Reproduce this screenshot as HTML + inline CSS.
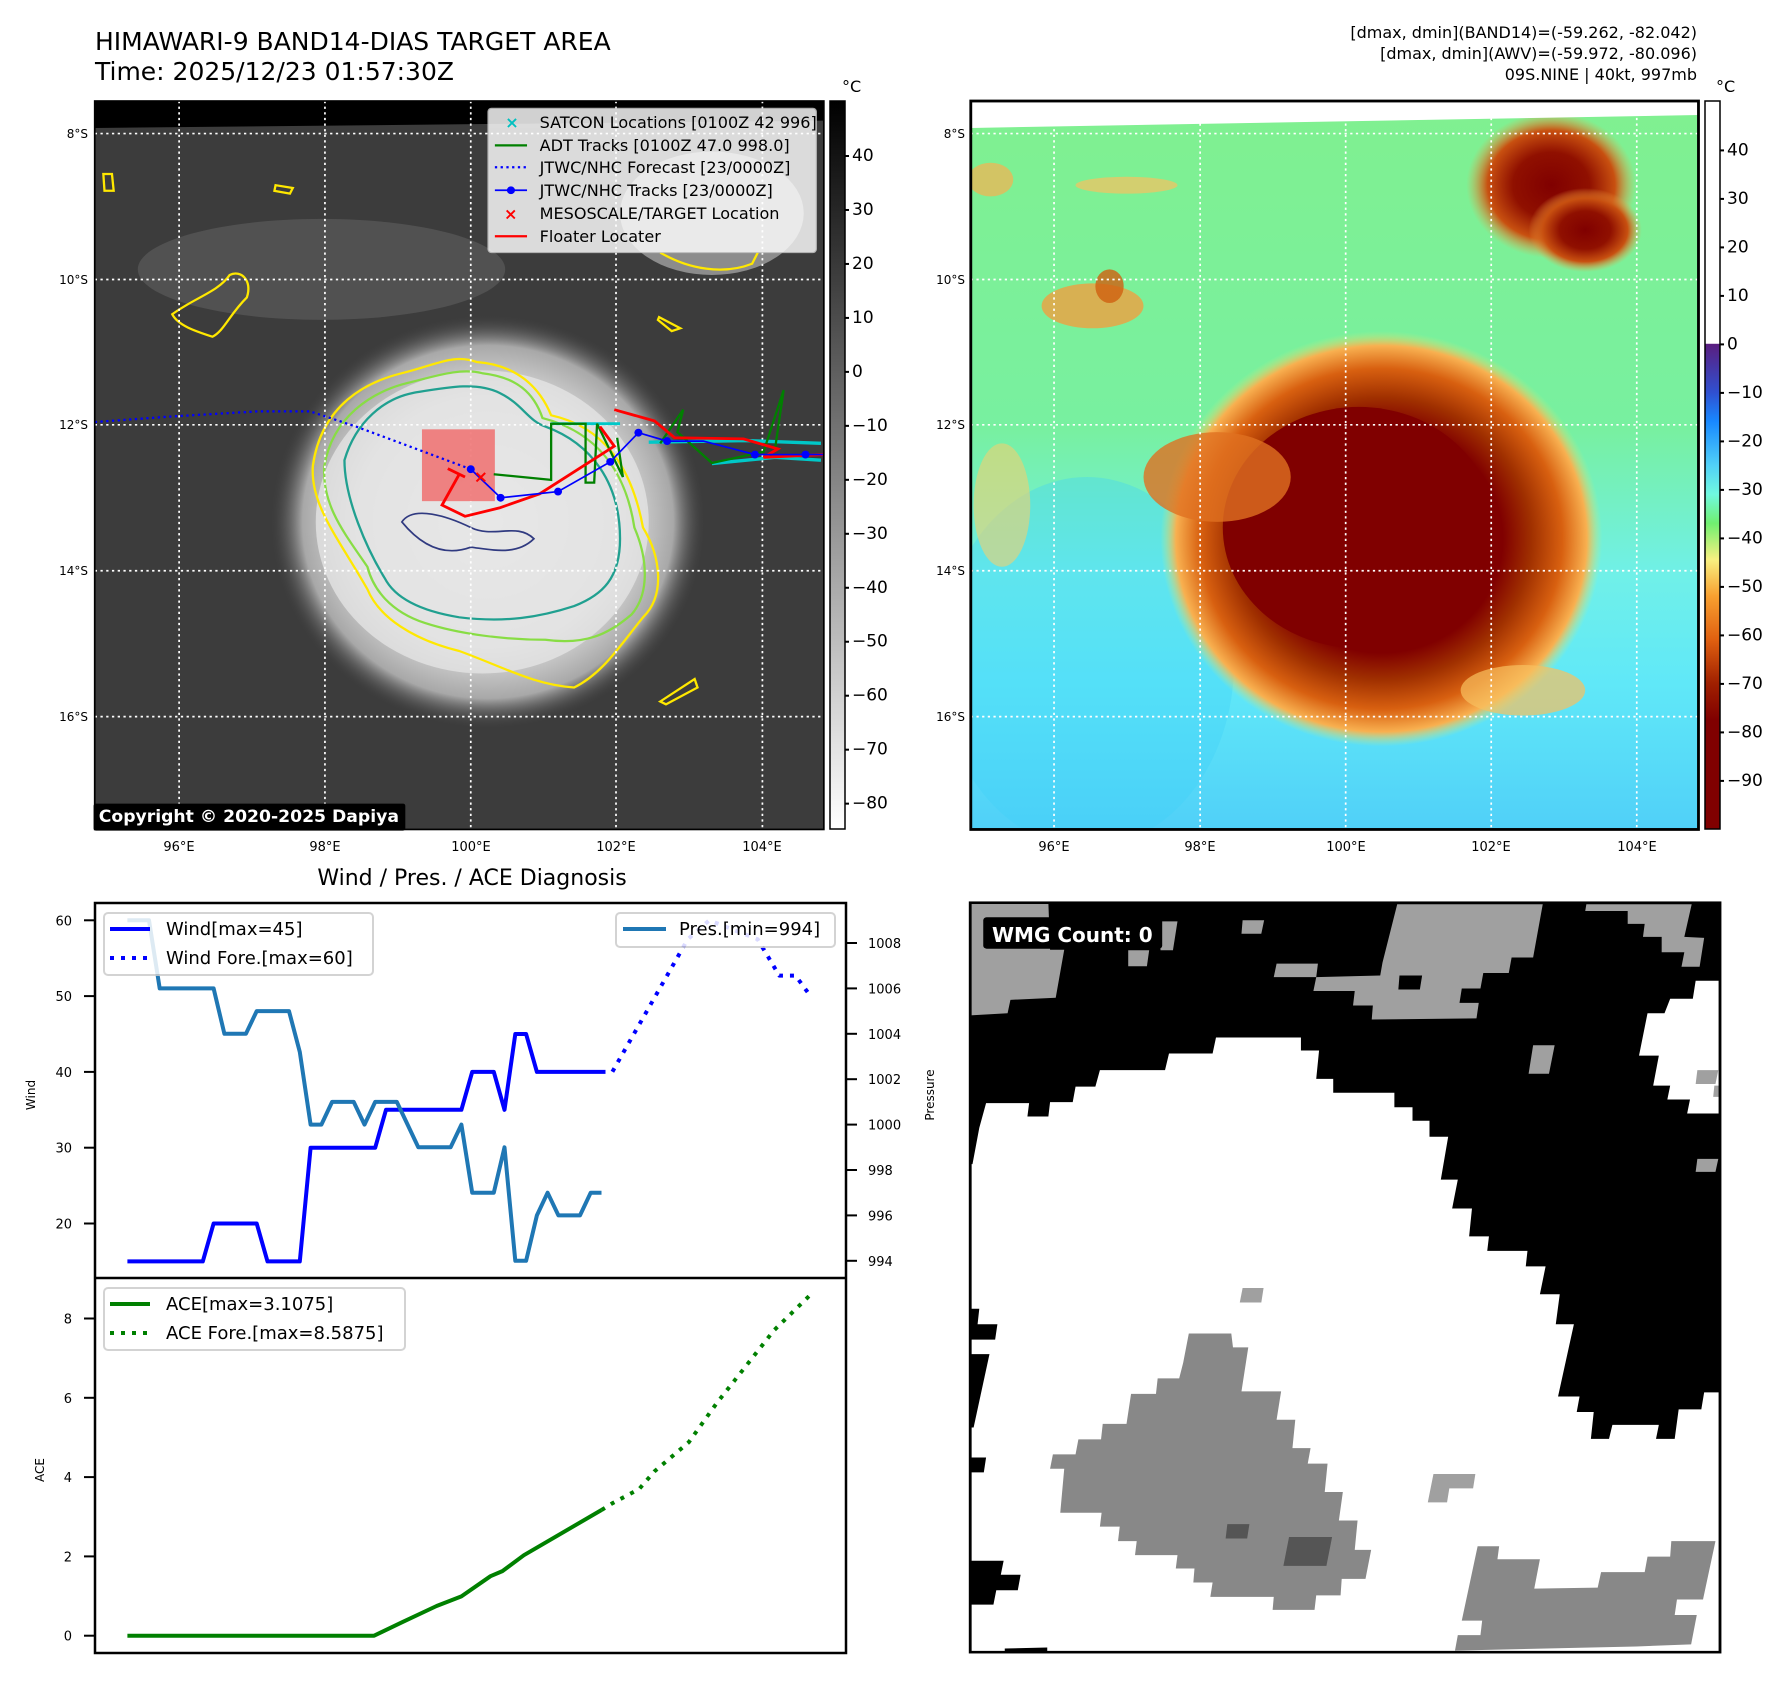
<!DOCTYPE html>
<html><head><meta charset="utf-8"><style>
html,body{margin:0;padding:0;background:#fff;}
svg{display:block;font-family:"DejaVu Sans","Liberation Sans",sans-serif;}
</style></head><body>
<svg id="root" width="1788" height="1690" viewBox="0 0 1788 1690" xmlns="http://www.w3.org/2000/svg">
<defs>
<linearGradient id="gcb" x1="0" y1="0" x2="0" y2="1"><stop offset="0" stop-color="#000"/><stop offset="1" stop-color="#fff"/></linearGradient>
<linearGradient id="ccb" x1="0" y1="0" x2="0" y2="1">
<stop offset="0" stop-color="#fff"/><stop offset="0.333" stop-color="#fff"/><stop offset="0.334" stop-color="#5a1e80"/>
<stop offset="0.40" stop-color="#3050d0"/><stop offset="0.44" stop-color="#1888ff"/><stop offset="0.50" stop-color="#50d0f8"/>
<stop offset="0.54" stop-color="#70f8e0"/><stop offset="0.58" stop-color="#70f070"/><stop offset="0.63" stop-color="#f8f080"/>
<stop offset="0.68" stop-color="#f8a030"/><stop offset="0.74" stop-color="#e06010"/><stop offset="0.80" stop-color="#a02000"/>
<stop offset="0.85" stop-color="#800000"/><stop offset="1" stop-color="#800000"/></linearGradient>
<radialGradient id="cloudL" cx="0.5" cy="0.5" r="0.5"><stop offset="0" stop-color="#f4f4f4"/><stop offset="0.6" stop-color="#e0e0e0"/><stop offset="0.85" stop-color="#a8a8a8"/><stop offset="1" stop-color="#3c3c3c" stop-opacity="0"/></radialGradient>
<linearGradient id="bgR" x1="0" y1="0" x2="0" y2="1"><stop offset="0" stop-color="#80f090"/><stop offset="0.45" stop-color="#78f0a0"/><stop offset="0.65" stop-color="#70f0e8"/><stop offset="0.8" stop-color="#60e8f8"/><stop offset="1" stop-color="#50d0f8"/></linearGradient>
<radialGradient id="stormR" cx="0.5" cy="0.5" r="0.5"><stop offset="0" stop-color="#800000"/><stop offset="0.55" stop-color="#800000"/><stop offset="0.68" stop-color="#a03000"/><stop offset="0.82" stop-color="#d86010"/><stop offset="0.93" stop-color="#f8b050"/><stop offset="1" stop-color="#c8f080" stop-opacity="0"/></radialGradient>
<radialGradient id="stormR2" cx="0.5" cy="0.5" r="0.5"><stop offset="0" stop-color="#800000"/><stop offset="0.45" stop-color="#901000"/><stop offset="0.75" stop-color="#c85010"/><stop offset="1" stop-color="#f0a040" stop-opacity="0"/></radialGradient>
<clipPath id="clipL"><rect x="165" y="180" width="1270" height="1298"/></clipPath>
<clipPath id="clipR"><rect x="125" y="180" width="1285" height="1298"/></clipPath>
<clipPath id="clipTop"><rect x="95" y="903" width="751" height="375"/></clipPath>
</defs>

<!-- TOP LEFT MAP -->
<text x="95" y="50" font-size="25">HIMAWARI-9 BAND14-DIAS TARGET AREA</text>
<text x="95" y="80" font-size="25">Time: 2025/12/23 01:57:30Z</text>
<g transform="scale(0.5741,0.5612)">
 <g clip-path="url(#clipL)">
  <rect x="165" y="180" width="1270" height="1298" fill="#3c3c3c"/>
  <ellipse cx="560" cy="480" rx="320" ry="90" fill="#5a5a5a" opacity="0.7"/>
  <ellipse cx="1240" cy="380" rx="160" ry="110" fill="#a0a0a0" opacity="0.8"/>
  <ellipse cx="850" cy="930" rx="380" ry="370" fill="url(#cloudL)"/>
  <ellipse cx="840" cy="930" rx="290" ry="270" fill="#e4e4e4" opacity="0.8"/>
  <polygon points="165,180 1435,180 1435,215 165,228" fill="#000"/>
  <path d="M545,830 C560,720 640,680 700,665 C760,650 790,630 830,645 C900,650 940,690 960,740 C1050,760 1100,830 1120,940 C1150,990 1160,1060 1120,1100 C1080,1150 1050,1200 1000,1225 C930,1220 880,1190 800,1160 C720,1140 660,1100 640,1050 C590,960 540,900 545,830 Z" fill="none" stroke="#ffe800" stroke-width="4"/>
  <path d="M565,830 C580,740 650,700 700,685 C760,670 800,655 840,665 C900,672 930,700 945,745 C1040,770 1090,840 1105,940 C1130,1000 1130,1060 1100,1095 C1060,1130 1020,1150 950,1140 C880,1140 800,1130 740,1110 C680,1090 650,1050 640,1010 C600,950 560,900 565,830 Z" fill="none" stroke="#88dd44" stroke-width="4"/>
  <path d="M600,820 C620,750 670,710 720,700 C780,690 830,680 870,700 C910,720 920,750 950,760 C1030,790 1080,860 1080,960 C1080,1030 1050,1060 1000,1080 C940,1100 880,1110 800,1100 C740,1090 690,1070 670,1030 C640,980 600,890 600,820 Z" fill="none" stroke="#20a090" stroke-width="4"/>
  <path d="M700,930 C720,900 780,920 820,940 C860,960 900,930 930,960 C900,990 860,980 820,975 C780,990 740,980 700,930 Z" fill="none" stroke="#303a80" stroke-width="3"/>
  <path d="M300,560 C340,530 380,520 400,490 C420,480 440,500 430,530 C400,560 390,590 370,600 C340,590 310,580 300,560 Z" fill="none" stroke="#ffe800" stroke-width="4"/>
  <path d="M1150,450 C1200,480 1260,490 1310,470 L1320,450" fill="none" stroke="#ffe800" stroke-width="4"/>
  <path d="M1150,1250 L1210,1210 L1215,1225 L1160,1255 Z" fill="none" stroke="#ffe800" stroke-width="4"/>
  <path d="M480,330 L510,335 L505,345 L478,340 Z M180,310 L195,310 L198,340 L182,340 Z M1148,565 L1185,585 L1170,590 L1146,570 Z" fill="none" stroke="#ffe800" stroke-width="4"/>
  <g stroke="#fff" stroke-width="3" stroke-dasharray="4 6" fill="none">
   <line x1="312" y1="180" x2="312" y2="1478"/><line x1="566" y1="180" x2="566" y2="1478"/><line x1="820" y1="180" x2="820" y2="1478"/><line x1="1073" y1="180" x2="1073" y2="1478"/><line x1="1328" y1="180" x2="1328" y2="1478"/>
   <line x1="165" y1="238" x2="1435" y2="238"/><line x1="165" y1="498" x2="1435" y2="498"/><line x1="165" y1="757" x2="1435" y2="757"/><line x1="165" y1="1017" x2="1435" y2="1017"/><line x1="165" y1="1277" x2="1435" y2="1277"/>
  </g>
  <rect x="735" y="765" width="127" height="128" fill="#f07070" opacity="0.85"/>
  <polyline points="960,755 1080,755" stroke="#00c8c8" stroke-width="5" fill="none"/>
  <polyline points="1130,788 1300,785 1430,790" stroke="#00c8c8" stroke-width="6" fill="none"/>
  <polyline points="1240,826 1350,815 1430,820" stroke="#00c8c8" stroke-width="6" fill="none"/>
  <polyline points="860,845 960,855 960,755 1020,755 1020,860 1035,860 1040,755 1085,850 1075,780" stroke="#008000" stroke-width="4" fill="none"/>
  <polyline points="1150,790 1190,730 1180,770 1240,825 1330,805 1365,695 1350,800" stroke="#008000" stroke-width="4" fill="none"/>
  <polyline points="165,752 300,742 450,733 540,733 620,760 820,836" stroke="#0000ff" stroke-width="4" stroke-dasharray="4 6" fill="none"/>
  <polyline points="1045,760 1070,795 940,880 870,905 810,920 770,900 800,845 780,835 810,850" stroke="#ff0000" stroke-width="5" fill="none"/>
  <polyline points="1070,730 1140,750 1175,780 1295,782 1355,800 1330,815 1435,810" stroke="#ff0000" stroke-width="5" fill="none"/>
  <polyline points="820,836 872,887 972,876 1063,823 1112,771 1162,786 1225,786 1315,810 1403,810 1435,810" stroke="#0000ff" stroke-width="3" fill="none"/>
  <g fill="#0000ff"><circle cx="820" cy="836" r="7"/><circle cx="872" cy="887" r="7"/><circle cx="972" cy="876" r="7"/><circle cx="1063" cy="823" r="7"/><circle cx="1112" cy="771" r="7"/><circle cx="1162" cy="786" r="7"/><circle cx="1315" cy="810" r="7"/><circle cx="1403" cy="810" r="7"/></g>
  <text x="825" y="860" fill="#ff0000" font-size="30" font-weight="bold">×</text>
  <g>
   <rect x="850" y="193" width="572" height="257" rx="6" fill="#fff" opacity="0.82" stroke="#ccc" stroke-width="2"/>
   <g font-size="28">
    <text x="880" y="228" fill="#00c0c0" font-weight="bold">×</text><text x="940" y="228">SATCON Locations [0100Z 42 996]</text>
    <line x1="862" y1="259" x2="918" y2="259" stroke="#008000" stroke-width="4"/><text x="940" y="269">ADT Tracks [0100Z 47.0 998.0]</text>
    <line x1="862" y1="298" x2="918" y2="298" stroke="#0000ff" stroke-width="4" stroke-dasharray="4 6"/><text x="940" y="308">JTWC/NHC Forecast [23/0000Z]</text>
    <line x1="862" y1="339" x2="918" y2="339" stroke="#0000ff" stroke-width="3"/><circle cx="890" cy="339" r="7" fill="#0000ff"/><text x="940" y="349">JTWC/NHC Tracks [23/0000Z]</text>
    <text x="878" y="391" fill="#ff0000" font-weight="bold">×</text><text x="940" y="390">MESOSCALE/TARGET Location</text>
    <line x1="862" y1="421" x2="918" y2="421" stroke="#ff0000" stroke-width="4"/><text x="940" y="431">Floater Locater</text>
   </g>
  </g>
 </g>
 <rect x="165" y="180" width="1270" height="1298" fill="none" stroke="#000" stroke-width="3"/>
 <rect x="163" y="1432" width="543" height="48" rx="4" fill="#000"/>
 <text x="172" y="1465" fill="#fff" font-size="30" font-weight="bold">Copyright © 2020-2025 Dapiya</text>
</g>
<g font-size="12" text-anchor="end">
 <text x="88" y="138">8°S</text><text x="88" y="284">10°S</text><text x="88" y="429">12°S</text><text x="88" y="575">14°S</text><text x="88" y="721">16°S</text>
</g>
<g font-size="13" text-anchor="middle">
 <text x="179" y="851">96°E</text><text x="325" y="851">98°E</text><text x="471" y="851">100°E</text><text x="616" y="851">102°E</text><text x="762" y="851">104°E</text>
</g>
<rect x="830" y="101" width="15" height="728" fill="url(#gcb)" stroke="#000" stroke-width="1.5"/>
<text x="842" y="92" font-size="16">°C</text>
<g id="cbL" font-size="17"></g>

<!-- TOP RIGHT MAP -->
<g font-size="16" text-anchor="end">
 <text x="1697" y="38">[dmax, dmin](BAND14)=(-59.262, -82.042)</text>
 <text x="1697" y="59">[dmax, dmin](AWV)=(-59.972, -80.096)</text>
 <text x="1697" y="80">09S.NINE | 40kt, 997mb</text>
</g>
<g transform="translate(900,0) scale(0.5663,0.5612)">
 <g clip-path="url(#clipR)">
  <rect x="125" y="180" width="1285" height="1298" fill="url(#bgR)"/>
  <ellipse cx="330" cy="1180" rx="260" ry="330" fill="#40d0f8" opacity="0.35"/>
  <ellipse cx="850" cy="960" rx="390" ry="370" fill="url(#stormR)"/>
  <ellipse cx="810" cy="940" rx="240" ry="215" fill="#800000"/>
  <ellipse cx="560" cy="850" rx="130" ry="80" fill="#e07020" opacity="0.8"/>
  <ellipse cx="1150" cy="330" rx="150" ry="130" fill="url(#stormR2)"/>
  <ellipse cx="1210" cy="410" rx="100" ry="75" fill="url(#stormR2)"/>
  <ellipse cx="340" cy="545" rx="90" ry="40" fill="#f0a040" opacity="0.8"/>
  <ellipse cx="370" cy="510" rx="25" ry="30" fill="#d06010" opacity="0.8"/>
  <ellipse cx="400" cy="330" rx="90" ry="15" fill="#f8c060" opacity="0.7"/>
  <ellipse cx="160" cy="320" rx="40" ry="30" fill="#f8b050" opacity="0.7"/>
  <ellipse cx="180" cy="900" rx="50" ry="110" fill="#f0d070" opacity="0.6"/>
  <ellipse cx="1100" cy="1230" rx="110" ry="45" fill="#f8c060" opacity="0.7"/>
  <polygon points="125,180 1410,180 1410,205 125,228" fill="#fff"/>
  <g stroke="#fff" stroke-width="3" stroke-dasharray="4 6" fill="none">
   <line x1="272" y1="180" x2="272" y2="1478"/><line x1="530" y1="180" x2="530" y2="1478"/><line x1="787" y1="180" x2="787" y2="1478"/><line x1="1044" y1="180" x2="1044" y2="1478"/><line x1="1301" y1="180" x2="1301" y2="1478"/>
   <line x1="125" y1="238" x2="1410" y2="238"/><line x1="125" y1="498" x2="1410" y2="498"/><line x1="125" y1="757" x2="1410" y2="757"/><line x1="125" y1="1017" x2="1410" y2="1017"/><line x1="125" y1="1277" x2="1410" y2="1277"/>
  </g>
 </g>
 <rect x="125" y="180" width="1285" height="1298" fill="none" stroke="#000" stroke-width="5"/>
</g>
<g font-size="12" text-anchor="end">
 <text x="965" y="138">8°S</text><text x="965" y="284">10°S</text><text x="965" y="429">12°S</text><text x="965" y="575">14°S</text><text x="965" y="721">16°S</text>
</g>
<g font-size="13" text-anchor="middle">
 <text x="1054" y="851">96°E</text><text x="1200" y="851">98°E</text><text x="1346" y="851">100°E</text><text x="1491" y="851">102°E</text><text x="1637" y="851">104°E</text>
</g>
<rect x="1705" y="101" width="15" height="728" fill="url(#ccb)" stroke="#000" stroke-width="1.5"/>
<text x="1716" y="92" font-size="16">°C</text>
<g id="cbR" font-size="17"></g>

<!-- BOTTOM LEFT CHART -->
<text x="472" y="885" font-size="22" text-anchor="middle">Wind / Pres. / ACE Diagnosis</text>
<g id="chart">
 <rect x="95" y="903" width="751" height="750" fill="#fff"/>
 <g id="marksTop" clip-path="url(#clipTop)"></g>
 <g id="marksBot"></g>
 <g id="axes" font-size="13"></g>
 <rect x="95" y="903" width="751" height="750" fill="none" stroke="#000" stroke-width="2.5"/>
 <line x1="95" y1="1278" x2="846" y2="1278" stroke="#000" stroke-width="2.5"/>
 <text transform="translate(35,1095) rotate(-90)" font-size="12" text-anchor="middle">Wind</text>
 <text transform="translate(44,1470) rotate(-90)" font-size="12" text-anchor="middle">ACE</text>
 <text transform="translate(934,1095) rotate(-90)" font-size="12" text-anchor="middle">Pressure</text>
 <g>
  <rect x="104" y="913" width="269" height="62" rx="4" fill="#fff" opacity="0.85" stroke="#ccc" stroke-width="2"/>
  <line x1="110" y1="929" x2="150" y2="929" stroke="#0000ff" stroke-width="4"/>
  <line x1="110" y1="958" x2="150" y2="958" stroke="#0000ff" stroke-width="4" stroke-dasharray="4 7"/>
  <text x="166" y="935" font-size="18">Wind[max=45]</text>
  <text x="166" y="964" font-size="18">Wind Fore.[max=60]</text>
 </g>
 <g>
  <rect x="616" y="913" width="219" height="34" rx="4" fill="#fff" opacity="0.85" stroke="#ccc" stroke-width="2"/>
  <line x1="623" y1="929" x2="666" y2="929" stroke="#1f77b4" stroke-width="4"/>
  <text x="679" y="935" font-size="18">Pres.[min=994]</text>
 </g>
 <g>
  <rect x="104" y="1288" width="301" height="62" rx="4" fill="#fff" opacity="0.85" stroke="#ccc" stroke-width="2"/>
  <line x1="110" y1="1304" x2="150" y2="1304" stroke="#008000" stroke-width="4"/>
  <line x1="110" y1="1333" x2="150" y2="1333" stroke="#008000" stroke-width="4" stroke-dasharray="4 7"/>
  <text x="166" y="1310" font-size="18">ACE[max=3.1075]</text>
  <text x="166" y="1339" font-size="18">ACE Fore.[max=8.5875]</text>
 </g>
</g>

<!-- BOTTOM RIGHT WMG -->
<g transform="translate(900,880) scale(0.5663,0.5165)">
 <rect x="124" y="44" width="1324" height="1451" fill="#fff"/>
 <polygon fill="#000" points="124,44 1448,44 1448,195 1405,195 1400,230 1360,230 1350,258 1320,258 1305,340 1340,340 1330,398 1360,398 1355,425 1395,425 1390,452 1448,452 1448,992 1420,992 1415,1025 1375,1025 1368,1082 1335,1082 1340,1055 1258,1055 1252,1082 1220,1082 1225,1030 1195,1030 1200,1000 1162,1000 1190,860 1158,860 1165,802 1130,802 1140,748 1105,748 1108,718 1037,718 1040,690 1005,690 1010,636 975,636 985,580 955,580 968,497 935,497 935,466 905,466 905,440 873,440 873,412 765,412 765,385 735,385 740,330 708,330 708,305 558,305 552,336 475,336 468,368 353,368 345,400 310,400 305,430 265,430 262,458 225,458 228,432 152,432 140,480 128,550 124,550"/>
 <polygon fill="#000" points="124,830 140,830 137,860 172,860 168,890 124,890"/>
 <polygon fill="#000" points="124,918 158,918 130,1060 124,1060"/>
 <polygon fill="#000" points="124,1118 152,1118 148,1147 124,1147"/>
 <polygon fill="#000" points="124,1318 183,1318 178,1345 213,1345 208,1375 170,1375 165,1403 124,1403"/>
 <polygon fill="#000" points="185,1488 260,1486 260,1495 185,1495"/>
 <g fill="#a0a0a0">
  <polygon points="124,44 262,44 265,135 290,135 275,228 195,232 190,258 124,262"/>
  <polygon points="403,136 440,136 436,167 403,167"/>
  <polygon points="460,80 490,80 482,136 460,136"/>
  <polygon points="605,78 643,78 638,104 603,104"/>
  <polygon points="665,162 738,162 735,188 660,188"/>
  <polygon points="878,47 1135,47 1118,150 1080,150 1075,180 1030,180 1025,210 992,210 988,238 1022,238 1018,268 833,270 835,243 800,243 803,215 730,215 735,188 848,185 852,160"/>
  <polygon points="1212,47 1398,47 1385,110 1420,112 1412,168 1380,168 1385,140 1345,140 1345,110 1312,110 1315,85 1285,85 1285,60 1210,60"/>
  <polygon points="1118,320 1156,320 1146,375 1110,375"/>
  <polygon points="1408,368 1445,368 1440,395 1405,395"/>
  <polygon points="1438,398 1448,398 1448,420 1436,420"/>
  <polygon points="1408,540 1445,540 1440,565 1405,565"/>
  <polygon points="605,790 642,790 638,818 600,818"/>
  <polygon points="942,1150 1016,1150 1012,1178 970,1178 966,1205 932,1205"/>
 </g>
 <polygon fill="#000" points="882,185 922,185 918,212 880,212"/>
 <g fill="#888">
  <polygon points="510,878 585,878 588,905 615,905 603,990 673,990 665,1045 698,1045 693,1100 725,1100 720,1130 755,1130 750,1185 782,1185 775,1240 808,1240 803,1297 832,1297 822,1353 780,1353 778,1385 735,1385 732,1413 658,1413 660,1388 548,1388 552,1360 518,1360 520,1333 487,1333 490,1307 415,1307 418,1280 385,1280 388,1252 353,1252 356,1225 283,1225 290,1140 265,1140 270,1112 310,1112 315,1083 355,1083 358,1053 400,1053 408,995 452,995 455,965 493,965 500,935"/>
  <polygon points="1020,1290 1058,1290 1055,1315 1130,1315 1120,1372 1232,1370 1238,1340 1315,1340 1320,1310 1360,1310 1362,1280 1440,1280 1418,1393 1372,1393 1368,1423 1407,1423 1397,1480 1300,1484 980,1492 985,1462 1025,1462 1028,1434 992,1434"/>
 </g>
 <g fill="#555"><polygon points="578,1247 617,1247 613,1275 575,1275"/><polygon points="687,1272 763,1272 753,1328 677,1328"/></g>
 <rect x="124" y="44" width="1324" height="1451" fill="none" stroke="#000" stroke-width="5"/>
 <rect x="147" y="72" width="316" height="61" rx="6" fill="#000"/>
</g>
<text x="992" y="942" fill="#fff" font-size="20" font-weight="bold">WMG Count: 0</text>

<script>
// ===== Chart data =====
var windObs = [15,15,15,15,15,15,15,15,20,20,20,20,20,15,15,15,15,30,30,30,30,30,30,30,35,35,35,35,35,35,35,35,40,40,40,35,45,45,40,40,40,40,40,40,40];
var windForeIdx = [44,45,52,54,58.5,60.5,62,63.4];
var windFore = [40,40,57.5,60,57.5,52.7,52.7,50];
var presObs = [1009,1009,1009,1006,1006,1006,1006,1006,1006,1004,1004,1004,1005,1005,1005,1005,1003.2,1000,1000,1001,1001,1001,1000,1001,1001,1001,1000,999,999,999,999,1000,997,997,997,999,994,994,996,997,996,996,996,997,997];
var aceObsIdx = [0,22.9,25.5,28.7,31,33.7,34.8,36.8,44];
var aceObs = [0,0,0.34,0.75,0.99,1.5,1.63,2.03,3.17];
var aceForeIdx = [44,45,47.5,48.9,52.1,54.7,57.4,60,63.4];
var aceFore = [3.17,3.34,3.7,4.14,4.88,5.87,6.8,7.7,8.6];
var windTicks = [20,30,40,50,60];
var presTicks = [994,996,998,1000,1002,1004,1006,1008];
var aceTicks = [0,2,4,6,8];
var grayCbTicks = [40,30,20,10,0,-10,-20,-30,-40,-50,-60,-70,-80];
var colorCbTicks = [40,30,20,10,0,-10,-20,-30,-40,-50,-60,-70,-80,-90];

var SVGNS = 'http://www.w3.org/2000/svg';
function xs(i){ return 127.4 + i*10.775; }
function yWind(v){ return 920.3 + (60-v)*7.58; }
function yPres(p){ return 943 + (1008-p)*22.7; }
function yAce(a){ return 1635.7 - a*39.65; }
function mk(tag, parent){ var e=document.createElementNS(SVGNS,tag); parent.appendChild(e); return e; }
function drawLine(parent, pts, color, dashed){
  var p = mk('polyline', parent);
  p.setAttribute('points', pts.map(function(q){return q[0].toFixed(1)+','+q[1].toFixed(1);}).join(' '));
  p.setAttribute('fill','none'); p.setAttribute('stroke',color); p.setAttribute('stroke-width','4');
  p.setAttribute('stroke-linejoin','round');
  if(dashed) p.setAttribute('stroke-dasharray','4 7');
  return p;
}
var gTopPanel = document.getElementById('marksTop');
var gBotPanel = document.getElementById('marksBot');
var gAxes = document.getElementById('axes');

var ln;
ln = drawLine(gTopPanel, windObs.map(function(v,i){return [xs(i),yWind(v)];}), '#0000ff', false);


ln = drawLine(gTopPanel, windForeIdx.map(function(i,k){return [xs(i),yWind(windFore[k])];}), '#0000ff', true);


ln = drawLine(gTopPanel, presObs.map(function(p,i){return [xs(i),yPres(p)];}), '#1f77b4', false);


ln = drawLine(gBotPanel, aceObsIdx.map(function(i,k){return [xs(i),yAce(aceObs[k])];}), '#008000', false);


ln = drawLine(gBotPanel, aceForeIdx.map(function(i,k){return [xs(i),yAce(aceFore[k])];}), '#008000', true);



function tick(parent, x1, x2, y, label, tx, anchor, name){
  var t = mk('line', parent);
  t.setAttribute('x1',x1); t.setAttribute('x2',x2); t.setAttribute('y1',y); t.setAttribute('y2',y);
  t.setAttribute('stroke','#000'); t.setAttribute('stroke-width','2');
  var s = mk('text', parent);
  s.setAttribute('x',tx); s.setAttribute('y',y+5); s.setAttribute('text-anchor',anchor);
  s.textContent = String(label).replace('-', '\u2212');
  
  
}
windTicks.forEach(function(v){tick(gAxes,84,95,yWind(v),v,72,'end','wind-tick-label');});
presTicks.forEach(function(p){tick(gAxes,846,857,yPres(p),p,868,'start','pressure-tick-label');});
aceTicks.forEach(function(a){tick(gAxes,84,95,yAce(a),a,72,'end','ace-tick-label');});

var gCbL = document.getElementById('cbL');
grayCbTicks.forEach(function(v){tick(gCbL,845,849,156+(40-v)*5.397,v,852,'start','gray-colorbar-label');});
var gCbR = document.getElementById('cbR');
colorCbTicks.forEach(function(v){tick(gCbR,1720,1724,150.4+(40-v)*4.85,v,1727,'start','color-colorbar-label');});
</script>
</svg>
</body></html>
